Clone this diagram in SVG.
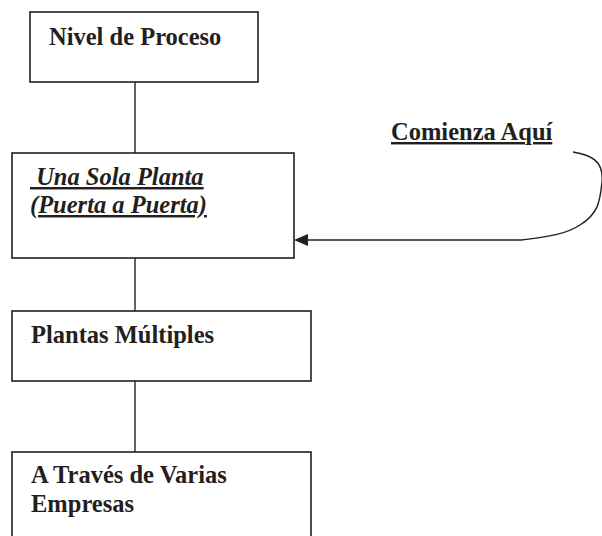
<svg xmlns="http://www.w3.org/2000/svg" width="602" height="536" viewBox="0 0 602 536">
<style>
.box{fill:#fff;stroke:#231f20;stroke-width:1.6}
.t{font-family:"Liberation Serif","Times New Roman",serif;font-size:24.5px;font-weight:bold;fill:#231f20}
.it{font-style:italic;text-decoration:underline}
.ul{text-decoration:underline}
.conn{fill:none;stroke:#231f20;stroke-width:1.4}
</style>
<g id="connectors">
<line class="conn" x1="135" y1="82" x2="135" y2="153"/>
<line class="conn" x1="135" y1="258" x2="135" y2="311"/>
<line class="conn" x1="135" y1="381" x2="135" y2="452"/>
<path class="conn" d="M573,152 C590,155 604,160 602,182 C600,202 598,214 580,225 C565,235 545,237 522,240 L306,240"/>
<path d="M294,240 L308,234 L308,246 Z" fill="#231f20"/>
</g>
<g id="n1">
<rect class="box" x="30" y="12" width="228" height="70"/>
<text class="t" x="49" y="45">Nivel de Proceso</text>
</g>
<g id="n2">
<rect class="box" x="12" y="153" width="282" height="105"/>
<text class="t it" x="30" y="185" xml:space="preserve"> Una Sola Planta</text>
<text class="t it" x="30" y="213">(Puerta a Puerta)</text>
</g>
<g id="n3">
<rect class="box" x="12" y="311" width="299" height="70"/>
<text class="t" x="31" y="343">Plantas Múltiples</text>
</g>
<g id="n4">
<rect class="box" x="12" y="452" width="299" height="100"/>
<text class="t" x="31" y="483">A Través de Varias</text>
<text class="t" x="31" y="512">Empresas</text>
</g>
<g id="label">
<text class="t ul" x="391" y="140">Comienza Aquí</text>
</g>
</svg>
